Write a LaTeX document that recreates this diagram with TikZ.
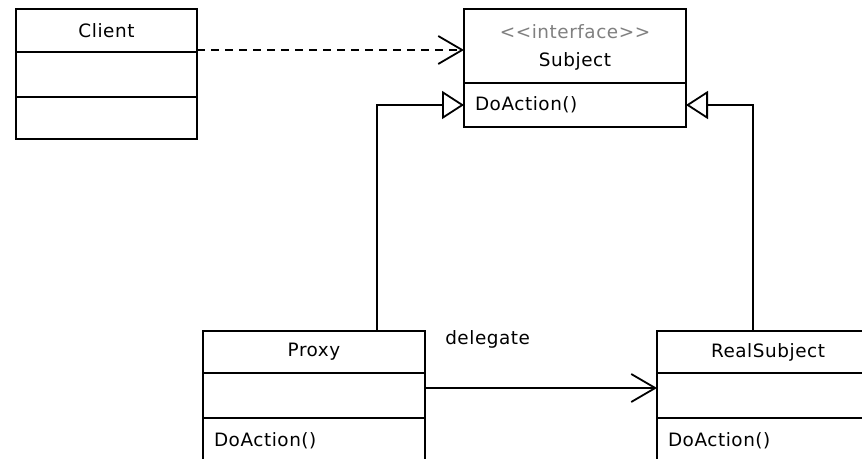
\documentclass[tikz,border=0pt]{standalone}
\usepackage{fontspec}
\newfontfamily\umlfont{DejaVu Sans}[LetterSpace=3]
\usetikzlibrary{positioning}
\usetikzlibrary{arrows.meta}
\definecolor{stereo}{HTML}{808080}

\tikzset{
  umlpart/.style={draw, line width=0.9pt, outer sep=0pt, inner sep=0pt,
    font=\umlfont\fontsize{9.2}{14}\selectfont},
  umlname/.style={umlpart, align=center},
  umlops/.style={umlpart, align=left, text width=#1, inner xsep=5.5pt},
  umllabel/.style={font=\umlfont\fontsize{9.2}{14}\selectfont},
  depend/.style={line width=0.9pt, dash pattern=on 4pt off 3pt,
    -{Straight Barb[length=12pt, width=14pt]}},
  realize/.style={line width=0.9pt, -{Triangle[length=11pt, width=14pt, fill=white]}},
  assoc/.style={line width=0.9pt, -{Straight Barb[length=12pt, width=14pt]}}
}

\begin{document}
\begin{tikzpicture}[x=0.5pt, y=-0.5pt]
    % fond blanc
    \fill[white] (0,0) rectangle (862,459);
    \clip (0,0) rectangle (862,459);
    % client
    \node[umlname, minimum width=90.5pt, minimum height=21.5pt] (client) at (106.5,30.5) {Client};
    \node[umlpart, minimum width=90.5pt, minimum height=22.5pt, below=0pt of client] (clientattr) {};
    \node[umlpart, minimum width=90.5pt, minimum height=21pt, below=0pt of clientattr] (clientops) {};
    % subject
    \node[umlname, minimum width=111pt, minimum height=37pt, text depth=0pt] (subject) at (575,46)
      {\textcolor{stereo}{<<interface>>}\\Subject};
    \node[umlops=100pt, minimum height=22pt, below=0pt of subject] (subjectops) {DoAction()};
    % proxy
    \node[umlname, minimum width=111pt, minimum height=21pt] (proxy) at (314,352) {Proxy};
    \node[umlpart, minimum width=111pt, minimum height=22.5pt, below=0pt of proxy] (proxyattr) {};
    \node[umlops=100pt, minimum height=22.5pt, below=0pt of proxyattr] (proxyops) {DoAction()};
    % real subject
    \node[umlname, minimum width=111pt, minimum height=21pt] (real) at (768,352) {RealSubject};
    \node[umlpart, minimum width=111pt, minimum height=22.5pt, below=0pt of real] (realattr) {};
    \node[umlops=100pt, minimum height=22.5pt, below=0pt of realattr] (realops) {DoAction()};
    % liens
    \coordinate (dashstart) at ([yshift=1pt]client.south east);
    \draw[depend] (dashstart) -- (dashstart -| subject.west);
    \draw[realize] ([xshift=-24pt]proxy.north east) |- (subjectops.west);
    \draw[realize] ([xshift=-7.5pt]real.north) |- (subjectops.east);
    \draw[assoc] ([yshift=3.75pt]proxyattr.east) -- ([yshift=3.75pt]realattr.west)
      node[umllabel, pos=.27, above=16pt] {delegate};
\end{tikzpicture}
\end{document}
